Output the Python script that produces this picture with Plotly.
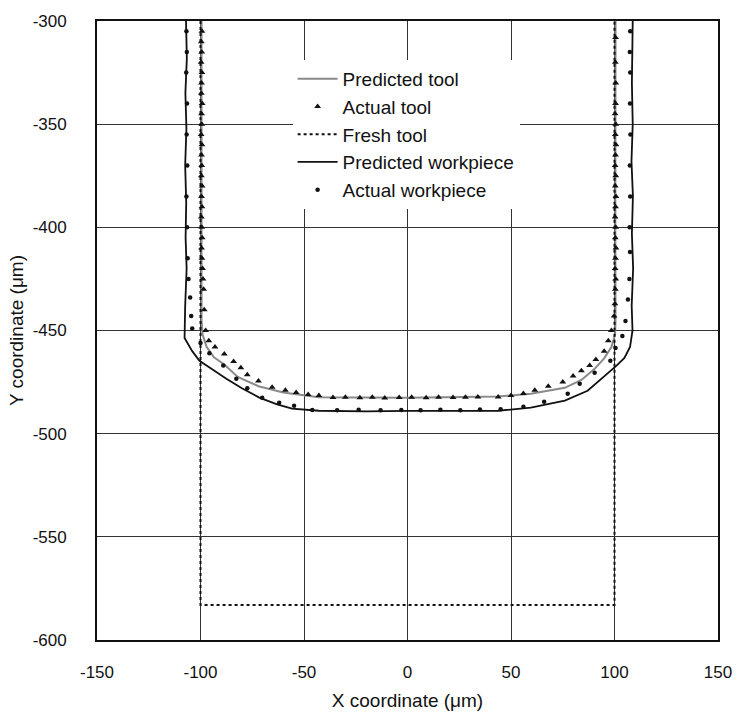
import plotly.graph_objects as go

# ---------------- data (micrometres) ----------------
pred_tool_x = [-99.5, -99.6, -99.4, -99.5, -99.0, -97.0, -93.5, -88.5, -82.0, -72.0, -60.0, -43.0,
               0.0, 43.8, 59.6, 76.0, 84.0, 90.4, 95.0, 98.5, 100.3, 100.5, 100.4, 100.5]
pred_tool_y = [-300, -350, -400, -445, -452, -458, -463, -466.5, -472.5, -477, -480, -482.3,
               -482.6, -482.0, -480.6, -477.8, -474, -468.6, -463.5, -458, -452, -445, -400, -300]

act_tool_x = [-99.3, -99.6, -99.4, -99.7, -99.3, -99.5, -99.6, -99.2, -99.5, -99.4, -99.7, -99.3,
              -99.5, -99.4, -99.6, -99.2, -99.5, -99.3, -99.6, -99.4, -99.2, -99.5, -99.3, -99.0,
              -98.8, -98.5, -98.2, -97.5,
              -96.0, -93.0, -88.5, -84.0, -80.5, -77.4, -72.0, -65.4, -59.0, -53.8, -48.0, -42.8,
              -36.0, -30.0, -23.0, -17.0, -11.0, -4.0, 2.0, 9.0, 15.0, 22.0, 28.0, 34.0,
              43.8, 50.0, 56.0, 61.5, 68.0, 75.0, 80.0, 84.0, 88.0, 91.0, 95.0, 97.0, 98.5,
              99.8, 100.2, 100.4, 100.6, 100.3, 100.5, 100.7, 100.4, 100.6, 100.3, 100.5, 100.7,
              100.4, 100.6, 100.3, 100.5, 100.7, 100.4, 100.6, 100.3, 100.5, 100.6, 100.4, 100.5]
act_tool_y = [-305, -310, -315, -320, -325, -330, -335, -340, -345, -350, -355, -360,
              -365, -370, -375, -380, -385, -390, -395, -400, -405, -410, -415, -420,
              -425, -430, -440, -450,
              -455, -458, -461.4, -465, -468, -471.5, -474.5, -477.5, -479, -480, -481, -481.5,
              -482.5, -482.3, -482.6, -482.4, -482.7, -482.5, -482.4, -482.6, -482.3, -482.5, -482.4, -482.2,
              -482.2, -481.5, -480.5, -479, -477, -475, -472, -469.5, -467, -464, -460, -455, -450,
              -443, -437, -430, -425, -420, -415, -410, -405, -400, -395, -390, -385,
              -380, -375, -370, -365, -360, -355, -350, -345, -340, -330, -320, -308]

fresh_tool_x = [-100, -100, 100, 100]
fresh_tool_y = [-300, -583, -583, -300]

pred_wp_x = [-107.0, -106.6, -107.3, -106.8, -107.4, -106.9, -107.2, -106.7, -107.4, -107.7,
             -104.0, -100.5, -94.0, -87.5, -80.0, -71.6, -63.0, -55.8, -42.8, -20.0, 0.0, 20.0,
             43.8, 59.6, 76.0, 87.0, 96.6, 101.0, 104.8, 107.5, 108.7,
             108.3, 109.0, 108.4, 108.9, 108.2, 108.8, 108.4, 108.8]
pred_wp_y = [-300, -318, -335, -352, -370, -388, -405, -420, -438, -453.6,
             -460, -464.7, -469, -473.4, -478, -482.5, -485.8, -487.9, -488.9, -489.2, -489, -489.1,
             -488.9, -487.4, -484, -479.2, -471, -467, -463.3, -458, -450,
             -438, -420, -403, -385, -368, -350, -330, -300]

act_wp_x = [-106.8, -106.6, -106.9, -106.5, -106.7, -106.4, -106.8, -106.5, -106.2, -105.8,
            -105.0, -104.5, -104.0, -100.0, -95.7, -89.0, -82.7, -77.4, -70.2, -62.0, -54.8,
            -46.0, -34.0, -23.6, -13.0, -3.0, 6.3, 15.9, 25.5, 35.0, 45.0,
            56.0, 66.0, 77.4, 83.2, 90.4, 98.0, 100.5, 103.8, 105.3,
            106.5, 107.2, 107.5, 107.3, 107.6, 107.4, 107.7, 107.5, 107.6, 107.4, 107.6]
act_wp_y = [-305, -315, -325, -340, -355, -370, -385, -400, -415, -425,
            -434, -443, -449, -456, -461, -467, -473.4, -478, -482.6, -485, -486.5,
            -488.5, -488.7, -488.4, -488.6, -488.5, -488.7, -488.4, -488.6, -488.3, -488.2,
            -487, -484.5, -480.6, -475.8, -470.5, -464.7, -458.5, -452.7, -445.4,
            -435, -425, -412, -400, -385, -370, -355, -340, -325, -315, -305]

x_ticks = [-150, -100, -50, 0, 50, 100, 150]
x_tick_text = ["-150", "-100", "-50", "0", "50", "100", "150"]
y_ticks = [-300, -350, -400, -450, -500, -550, -600]
y_tick_text = ["-300", "-350", "-400", "-450", "-500", "-550", "-600"]

FONT = "Liberation Sans, Arial, sans-serif"
INK = "#111111"

fig = go.Figure()
fig.add_trace(go.Scatter(x=pred_tool_x, y=pred_tool_y, mode="lines", name="Predicted tool",
                         line=dict(color="#8a8a8a", width=2)))
fig.add_trace(go.Scatter(x=act_tool_x, y=act_tool_y, mode="markers", name="Actual tool",
                         marker=dict(symbol="triangle-up", size=6, color=INK)))
fig.add_trace(go.Scatter(x=fresh_tool_x, y=fresh_tool_y, mode="lines", name="Fresh tool",
                         line=dict(color=INK, width=2, dash="dot")))
fig.add_trace(go.Scatter(x=pred_wp_x, y=pred_wp_y, mode="lines", name="Predicted workpiece",
                         line=dict(color=INK, width=1.8)))
fig.add_trace(go.Scatter(x=act_wp_x, y=act_wp_y, mode="markers", name="Actual workpiece",
                         marker=dict(symbol="circle", size=4.5, color=INK)))

axis_common = dict(showgrid=True, gridcolor="#333333", gridwidth=1, zeroline=False,
                   showline=True, linecolor=INK, linewidth=1.8, mirror=True,
                   ticks="", tickfont=dict(family=FONT, size=17, color=INK))

fig.update_xaxes(range=[-150, 150], tickvals=x_ticks, ticktext=x_tick_text, ticklabelstandoff=16,
                 title=dict(text="X coordinate (μm)", font=dict(family=FONT, size=19, color=INK),
                            standoff=12),
                 **axis_common)
fig.update_yaxes(range=[-600, -300], tickvals=y_ticks, ticktext=y_tick_text, ticklabelstandoff=25,
                 title=dict(text="Y coordinate (μm)", font=dict(family=FONT, size=19, color=INK),
                            standoff=4),
                 **axis_common)

fig.update_layout(
    width=744, height=720,
    margin=dict(l=97, r=22, t=19, b=79),
    paper_bgcolor="white", plot_bgcolor="white",
    font=dict(family=FONT, size=17, color=INK),
    legend=dict(x=0.315, y=0.937, xanchor="left", yanchor="top", bgcolor="white",
                font=dict(family=FONT, size=19, color=INK), itemwidth=40),
    showlegend=True,
)

fig.write_html("out.html")
